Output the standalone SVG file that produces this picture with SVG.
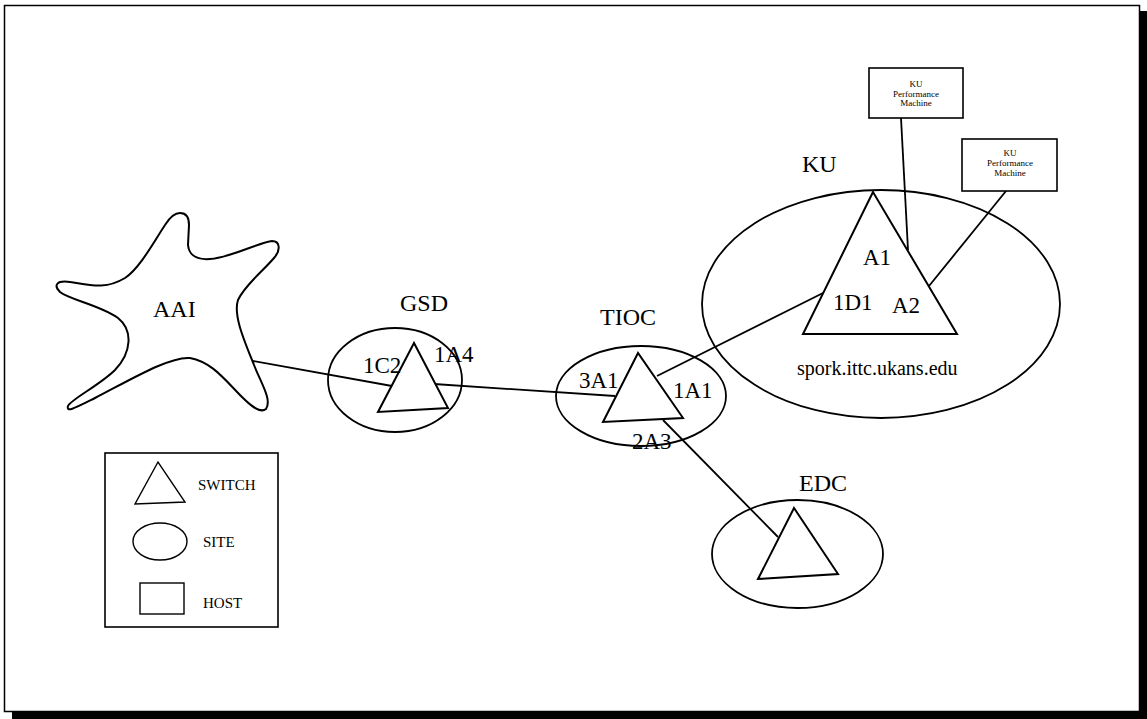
<svg xmlns="http://www.w3.org/2000/svg" width="1147" height="719" viewBox="0 0 1147 719">
  <style>
    .site { fill: none; stroke: #000; stroke-width: 1.8; }
    .switch { fill: #fff; stroke: #000; stroke-width: 2; stroke-linejoin: miter; }
    .host { fill: #fff; stroke: #000; stroke-width: 1.6; }
    .link { fill: none; stroke: #000; stroke-width: 1.8; }
    .cloud { fill: #fff; stroke: #000; stroke-width: 2; }
    text { font-family: "Liberation Serif", "Times New Roman", serif; fill: #000; }
    .name { font-size: 24px; }
    .port { font-size: 23px; }
    .addr { font-size: 20px; }
    .legend-text { font-size: 15px; }
    .host-text { font-size: 9px; text-anchor: middle; }
  </style>

  <!-- page frame with drop shadow -->
  <rect x="0" y="0" width="1147" height="719" fill="#fff"/>
  <rect x="1140" y="11" width="7" height="708" fill="#000"/>
  <rect x="12" y="712" width="1135" height="7" fill="#000"/>
  <rect x="4.5" y="5.5" width="1135" height="706" fill="none" stroke="#000" stroke-width="1.5"/>

  <!-- connectors -->
  <g id="connectors">
    <line class="link" x1="253" y1="361" x2="392" y2="386"/>
    <line class="link" x1="434" y1="384" x2="615" y2="396"/>
    <line class="link" x1="657" y1="376" x2="823" y2="293"/>
    <line class="link" x1="663" y1="420" x2="778" y2="537"/>
    <line class="link" x1="901" y1="118" x2="908" y2="250"/>
    <line class="link" x1="1006" y1="191" x2="929" y2="286"/>
  </g>

  <!-- AAI network cloud -->
  <g id="aai">
    <path class="cloud" d="M 180,213 C 186,213 189,217 189,225 L 188,245 C 189,256 198,260 210,259 C 230,258 260,242 272,241 C 280,241 281,250 274,258 C 262,272 245,285 238,300 C 233,315 244,340 254,365 C 262,385 272,400 266,409 C 260,414 250,405 242,397 C 225,380 212,362 190,358 C 170,356 130,380 95,398 C 75,408 66,413 68,406 C 70,400 100,385 115,370 C 132,352 133,330 118,318 C 100,305 70,300 60,292 C 53,285 57,280 70,282 C 90,285 105,290 125,278 C 140,268 155,240 165,225 C 170,217 175,213 180,213 Z"/>
    <text class="name" x="153" y="317">AAI</text>
  </g>

  <!-- GSD site -->
  <g id="gsd">
    <ellipse class="site" cx="395" cy="380" rx="67" ry="52"/>
    <polygon class="switch" points="414,343 378,412 448,408"/>
    <text class="name" x="400" y="311">GSD</text>
    <text class="port" x="363" y="373">1C2</text>
    <text class="port" x="434" y="362">1A4</text>
  </g>

  <!-- TIOC site -->
  <g id="tioc">
    <ellipse class="site" cx="641" cy="396" rx="85" ry="50"/>
    <polygon class="switch" points="638,353 603,422 683,418"/>
    <text class="name" x="600" y="325">TIOC</text>
    <text class="port" x="579" y="388">3A1</text>
    <text class="port" x="673" y="398">1A1</text>
    <text class="port" x="632" y="449">2A3</text>
  </g>

  <!-- KU site -->
  <g id="ku">
    <ellipse class="site" cx="881" cy="304" rx="179" ry="114"/>
    <polygon class="switch" points="873,192 803,334 957,334"/>
    <text class="name" x="802" y="172">KU</text>
    <text class="port" x="863" y="265">A1</text>
    <text class="port" x="833" y="310">1D1</text>
    <text class="port" x="892" y="313">A2</text>
    <text class="addr" x="797" y="375">spork.ittc.ukans.edu</text>
  </g>

  <!-- KU performance hosts -->
  <g id="ku-host-1">
    <rect class="host" x="869" y="68" width="94" height="50"/>
    <text class="host-text" x="916" y="87">KU</text>
    <text class="host-text" x="916" y="97">Performance</text>
    <text class="host-text" x="916" y="106">Machine</text>
  </g>
  <g id="ku-host-2">
    <rect class="host" x="962" y="139" width="95" height="52"/>
    <text class="host-text" x="1010" y="156">KU</text>
    <text class="host-text" x="1010" y="166">Performance</text>
    <text class="host-text" x="1010" y="176">Machine</text>
  </g>

  <!-- EDC site -->
  <g id="edc">
    <ellipse class="site" cx="797.5" cy="554" rx="85.5" ry="54"/>
    <polygon class="switch" points="794,508 758,579 838,574"/>
    <text class="name" x="799" y="491">EDC</text>
  </g>

  <!-- legend -->
  <g id="legend">
    <rect x="105" y="453" width="173" height="174" fill="#fff" stroke="#000" stroke-width="1.6"/>
    <polygon points="158,462 135,504 185,502" fill="#fff" stroke="#000" stroke-width="1.4"/>
    <text class="legend-text" x="198" y="490">SWITCH</text>
    <ellipse cx="160" cy="541.5" rx="27" ry="18.5" fill="none" stroke="#000" stroke-width="1.4"/>
    <text class="legend-text" x="203" y="547">SITE</text>
    <rect x="140" y="583" width="44" height="31" fill="none" stroke="#000" stroke-width="1.4"/>
    <text class="legend-text" x="203" y="608">HOST</text>
  </g>
</svg>
